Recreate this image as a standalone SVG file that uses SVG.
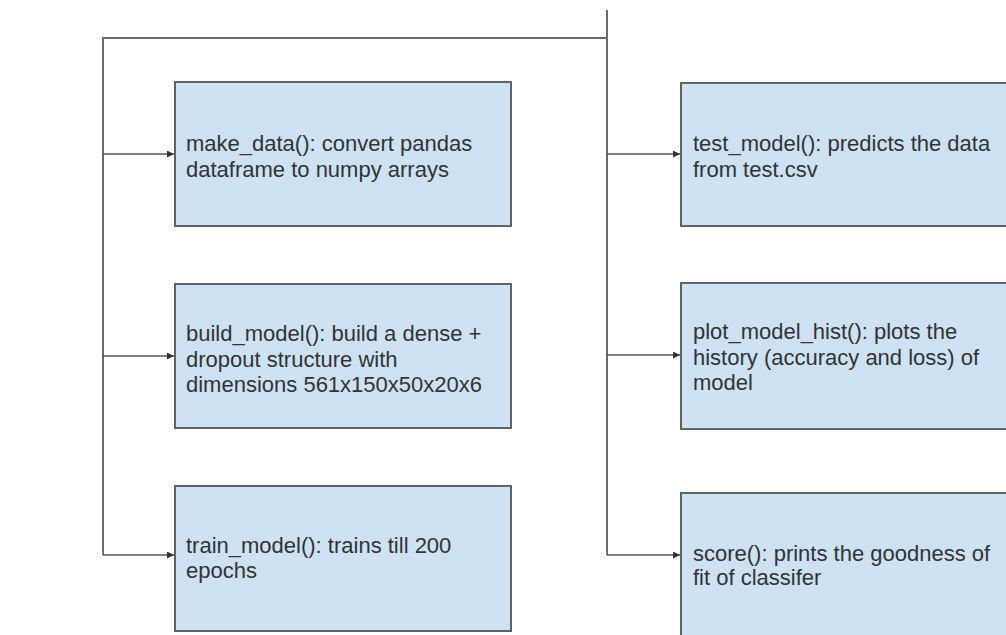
<svg xmlns="http://www.w3.org/2000/svg" width="1006" height="635" viewBox="0 0 1006 635">
  <style>
    .box { fill: #cfe2f3; stroke: #5f6368; stroke-width: 2; }
    .wire { fill: none; stroke: #6b6b6b; stroke-width: 2; }
    .link { fill: none; stroke: #555555; stroke-width: 1.3; }
    .label { font-family: "Liberation Sans", Arial, sans-serif; font-size: 22px; fill: #2f3438; }
  </style>
  <defs>
    <marker id="arrow" viewBox="0 0 10 10" refX="10" refY="5" markerWidth="7" markerHeight="7" markerUnits="userSpaceOnUse" orient="auto">
      <path d="M0,0 L10,5 L0,10 z" fill="#333333"/>
    </marker>
  </defs>

  <rect width="1006" height="635" fill="#ffffff"/>

  <!-- bus lines and branches -->
  <g id="connectors">
    <path class="wire" d="M607,10 V555"/>
    <path class="wire" d="M103,555 V38 H607"/>
    <path class="link" d="M103,154 H174" marker-end="url(#arrow)"/>
    <path class="link" d="M103,356 H174" marker-end="url(#arrow)"/>
    <path class="link" d="M103,555 H174" marker-end="url(#arrow)"/>
    <path class="link" d="M607,154 H680" marker-end="url(#arrow)"/>
    <path class="link" d="M607,355 H680" marker-end="url(#arrow)"/>
    <path class="link" d="M607,555 H680" marker-end="url(#arrow)"/>
  </g>

  <g id="make_data">
    <rect class="box" x="175" y="82" width="336" height="144"/>
    <text class="label" x="186" y="151">make_data(): convert pandas</text>
    <text class="label" x="186" y="177">dataframe to numpy arrays</text>
  </g>

  <g id="build_model">
    <rect class="box" x="175" y="284" width="336" height="144"/>
    <text class="label" x="186" y="341">build_model(): build a dense +</text>
    <text class="label" x="186" y="367">dropout structure with</text>
    <text class="label" x="186" y="392">dimensions 561x150x50x20x6</text>
  </g>

  <g id="train_model">
    <rect class="box" x="175" y="486" width="336" height="145"/>
    <text class="label" x="186" y="553">train_model(): trains till 200</text>
    <text class="label" x="186" y="578">epochs</text>
  </g>

  <g id="test_model">
    <rect class="box" x="681" y="83" width="340" height="143"/>
    <text class="label" x="693" y="151">test_model(): predicts the data</text>
    <text class="label" x="693" y="177">from test.csv</text>
  </g>

  <g id="plot_model_hist">
    <rect class="box" x="681" y="283" width="340" height="146"/>
    <text class="label" x="693" y="339">plot_model_hist(): plots the</text>
    <text class="label" x="693" y="365">history (accuracy and loss) of</text>
    <text class="label" x="693" y="390">model</text>
  </g>

  <g id="score">
    <rect class="box" x="681" y="493" width="340" height="150"/>
    <text class="label" x="693" y="561">score(): prints the goodness of</text>
    <text class="label" x="693" y="585">fit of classifer</text>
  </g>
</svg>
